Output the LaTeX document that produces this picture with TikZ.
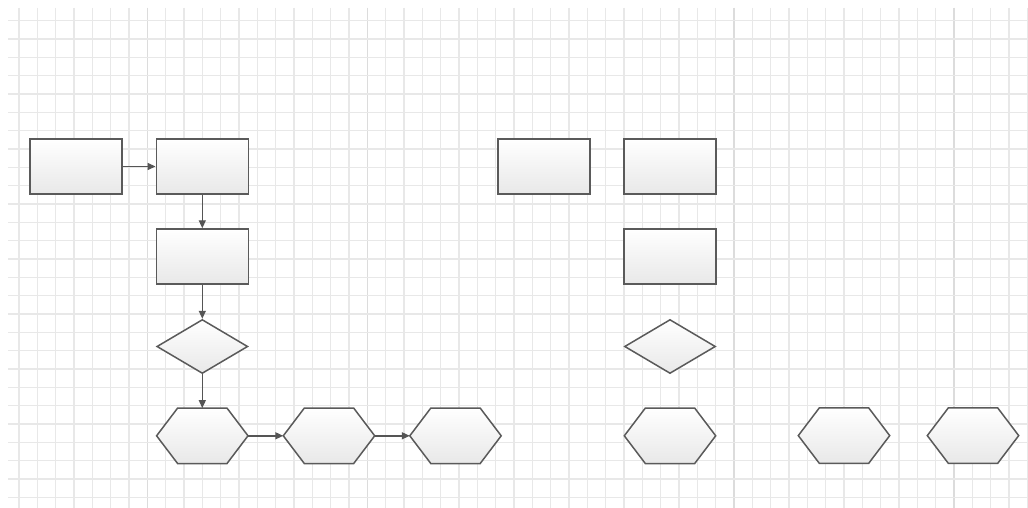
\documentclass[tikz,border=0pt]{standalone}
\usetikzlibrary{shapes.geometric,arrows.meta,calc}
\definecolor{gridc}{HTML}{E8E8E8}
\definecolor{gridd}{HTML}{DCDCDC}
\definecolor{edgec}{HTML}{5A5A5A}
\definecolor{arrc}{HTML}{555555}
\tikzset{
  shapefill/.style={top color=white, bottom color=black!9, draw=edgec, line width=1.5pt, line join=miter},
  boxnode/.style={shapefill, rectangle, minimum width=92pt, minimum height=55pt, inner sep=0pt},
  dianode/.style={shapefill, diamond, minimum width=91pt, minimum height=54pt, inner sep=0pt},
  hexanchor/.style={rectangle, minimum width=91pt, minimum height=55pt, inner sep=0pt},
  conn/.style={draw=arrc, line width=1.4pt, -{Triangle[length=8pt,width=7pt]}},
  gridline/.style={draw=gridc, line width=1.6pt},
  gridmajor/.style={draw=gridd, line width=1.6pt}
}
\newcommand{\hexnode}[3]{%
  \node[hexanchor] (#1) at (#2,#3) {};
  \path[shapefill] (#1.west) -- ($(#1.north west)+(21,0)$) -- ($(#1.north east)+(-21,0)$)
     -- (#1.east) -- ($(#1.south east)+(-21,0)$) -- ($(#1.south west)+(21,0)$) -- cycle;
}
\begin{document}
\begin{tikzpicture}[x=1pt,y=-1pt]
\useasboundingbox (0,0) rectangle (1028,508);
\fill[white] (0,0) rectangle (1028,508);
% grid
\foreach \k in {1,...,56} {
  \draw[gridline] ({0.67+18.333*\k},8) -- ({0.67+18.333*\k},508);
}
\foreach \k in {8,20,40,52} {
  \draw[gridmajor] ({0.67+18.333*\k},8) -- ({0.67+18.333*\k},508);
}
\foreach \k in {1,...,27} {
  \draw[gridline] (8,{2.33+18.333*\k}) -- (1028,{2.33+18.333*\k});
}
% left group
\node[boxnode] (r1) at (76,166.5) {};
\node[boxnode] (r2) at (202.3,166.5) {};
\node[boxnode] (r3) at (202.3,256.5) {};
\node[dianode] (d1) at (202.3,346.5) {};
\hexnode{h1}{202.3}{435.8}
\hexnode{h2}{329}{435.8}
\hexnode{h3}{455.5}{435.8}
% right group
\node[boxnode] (r4) at (544,166.5) {};
\node[boxnode] (r5) at (670,166.5) {};
\node[boxnode] (r6) at (670,256.5) {};
\node[dianode] (d2) at (670,346.5) {};
\hexnode{h4}{670}{435.8}
\hexnode{h5}{844}{435.6}
\hexnode{h6}{973}{435.6}
% connectors
\draw[conn] (r1.east) -- (r2.west);
\draw[conn] (r2.south) -- (r3.north);
\draw[conn] (r3.south) -- (d1.north);
\draw[conn] (d1.south) -- (h1.north);
\draw[conn] (h1.east) -- (h2.west);
\draw[conn] (h2.east) -- (h3.west);
\end{tikzpicture}
\end{document}
